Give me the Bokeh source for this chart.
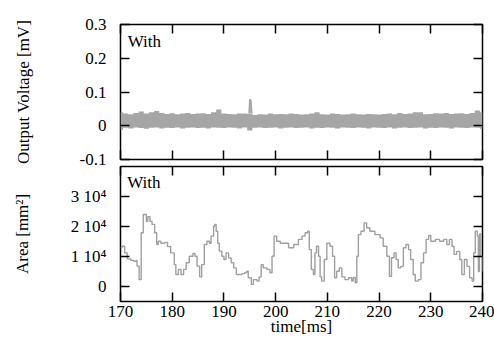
from bokeh.plotting import figure
from bokeh.models import Range1d, LinearAxis, FixedTicker, Label
from bokeh.layouts import column
from bokeh.embed import file_html
from bokeh.resources import INLINE

# ---------------- data ----------------
time_range = [170, 240]
x_ticks = [170, 180, 190, 200, 210, 220, 230, 240]
x_labels = ["170", "180", "190", "200", "210", "220", "230", "240"]

# top panel: output voltage noise band (envelope per ms)
band_t = list(range(170, 241))
band_hi = [0.040, 0.036, 0.034, 0.038, 0.042, 0.036, 0.040, 0.044, 0.038, 0.035,
           0.037, 0.034, 0.036, 0.038, 0.035, 0.036, 0.037, 0.035, 0.040, 0.048,
           0.036, 0.035, 0.034, 0.036, 0.036, 0.035, 0.032, 0.034, 0.033, 0.036,
           0.034, 0.035, 0.034, 0.036, 0.035, 0.033, 0.034, 0.036, 0.040, 0.034,
           0.033, 0.036, 0.035, 0.033, 0.034, 0.036, 0.034, 0.033, 0.035, 0.034,
           0.033, 0.035, 0.036, 0.034, 0.038, 0.035, 0.036, 0.040, 0.040, 0.034,
           0.035, 0.037, 0.036, 0.038, 0.035, 0.036, 0.037, 0.035, 0.038, 0.045,
           0.040]
band_lo = [-0.012, -0.006, -0.008, -0.005, -0.007, -0.009, -0.006, -0.005, -0.008, -0.006,
           -0.007, -0.005, -0.008, -0.006, -0.005, -0.007, -0.006, -0.008, -0.005, -0.006,
           -0.007, -0.005, -0.006, -0.008, -0.005, -0.014, -0.006, -0.005, -0.007, -0.006,
           -0.005, -0.008, -0.006, -0.005, -0.007, -0.006, -0.005, -0.008, -0.006, -0.007,
           -0.005, -0.006, -0.008, -0.005, -0.006, -0.007, -0.005, -0.006, -0.008, -0.005,
           -0.006, -0.007, -0.005, -0.008, -0.006, -0.005, -0.007, -0.006, -0.005, -0.008,
           -0.006, -0.007, -0.005, -0.006, -0.008, -0.005, -0.006, -0.007, -0.005, -0.006,
           -0.009]
spike_t = [194.9, 195.05, 195.2, 195.35]
spike_v = [0.036, 0.078, 0.072, 0.036]
v_range = [-0.1, 0.3]
v_ticks = [-0.1, 0, 0.1, 0.2, 0.3]
v_labels = ["-0.1", "0", "0.1", "0.2", "0.3"]

# bottom panel: area
area_t = [170.0, 170.3, 170.8, 171.3, 172.0, 172.6, 173.0, 173.2, 173.6, 174.0,
          174.4, 175.0, 175.3, 175.7, 176.1, 176.6, 177.0, 177.3, 177.8, 178.5,
          179.1, 179.7, 180.4, 180.7, 181.2, 181.7, 182.2, 182.7, 183.3, 184.0,
          184.4, 184.8, 185.3, 185.7, 186.2, 186.7, 187.2, 187.5, 188.0, 188.2,
          188.5, 188.8, 189.1, 189.6, 190.0, 190.4, 190.9, 191.4, 191.9, 192.4,
          193.0, 193.5, 194.0, 194.4, 194.7, 195.3, 195.7, 196.4, 196.8, 197.2,
          197.6, 198.3, 198.9, 199.3, 199.7, 200.2, 200.9, 201.5, 202.5, 203.5,
          204.4, 205.1, 205.7, 206.2, 206.5, 206.9, 207.3, 207.6, 207.9, 208.3,
          208.6, 208.9, 209.4, 209.9, 210.5, 211.0, 211.4, 211.8, 212.3, 212.8,
          213.4, 214.1, 214.7, 215.0, 215.4, 215.7, 216.0, 216.5, 217.1, 217.6,
          218.2, 219.2, 220.2, 220.8, 221.5, 222.0, 222.4, 222.9, 223.3, 223.7,
          224.2, 224.7, 225.2, 225.7, 226.1, 226.6, 227.0, 227.6, 228.1, 228.6,
          229.1, 229.6, 230.0, 230.9, 231.7, 232.5, 233.1, 233.6, 234.1, 234.5,
          235.0, 235.6, 236.0, 236.5, 237.0, 237.5, 238.0, 238.3, 238.6, 239.0,
          239.2, 239.4, 239.7, 240.0]
area_v = [13000, 13400, 11200, 9200, 8700, 8400, 8700, 6800, 2300, 17900,
          24000, 21700, 23300, 21700, 20700, 17900, 14000, 15100, 14400, 14700,
          13300, 11200, 7300, 4000, 5700, 4000, 5700, 7900, 10100, 11000,
          10100, 6800, 3200, 7300, 14000, 15100, 14400, 16800, 20100, 20700,
          18400, 14400, 11800, 10100, 9000, 11200, 9500, 7900, 6200, 4000,
          4000, 4300, 4600, 5100, 2900, 700, 2300, 1800, 3200, 7300,
          6200, 5700, 4600, 10100, 16800, 15100, 14400, 14400, 12900, 14000,
          15700, 16800, 17900, 18400, 12300, 5700, 4000, 11200, 13400, 10100,
          3200, 1800, 9000, 14400, 13400, 10100, 2900, 5100, 6200, 3200,
          2300, 2900, 1800, 3000, 1200, 10100, 17300, 18400, 21200, 19600,
          18400, 17300, 16200, 13400, 10100, 3400, 9600, 11200, 9000, 6200,
          6700, 12900, 14000, 12300, 9000, 4000, 1800, 2300, 7900, 11200,
          15700, 17000, 15100, 15700, 15100, 15700, 14000, 15700, 13400, 10700,
          11700, 9000, 4000, 9000, 6700, 2900, 1800, 11200, 18400, 16800,
          5000, 17500, 10000, 5000]
a_range = [-5000, 40000]
a_ticks = [0, 10000, 20000, 30000]
a_labels = ["0", "1 10\u2074", "2 10\u2074", "3 10\u2074"]

panel_text = "With"
y_title_top = "Output Voltage [mV]"
y_title_bot = "Area [mm\u00b2]"
x_title = "time[ms]"

# ---------------- styling ----------------
FONT = "Liberation Serif"
FS = "17px"
GRAY = "#a6a6a6"


def style_axis(ax, ticks, labels, show):
    ax.ticker = FixedTicker(ticks=ticks)
    ax.major_tick_in = 9
    ax.major_tick_out = 0
    ax.minor_tick_in = 0
    ax.minor_tick_out = 0
    ax.major_tick_line_color = "black"
    ax.major_tick_line_width = 1.5
    ax.axis_line_color = None
    ax.major_label_text_font = FONT
    ax.major_label_text_font_size = FS
    ax.major_label_text_color = "black"
    ax.axis_label_text_font = FONT
    ax.axis_label_text_font_size = FS
    ax.axis_label_text_font_style = "normal"
    ax.axis_label_text_color = "black"
    if show:
        ax.major_label_overrides = {t: l for t, l in zip(ticks, labels)}
    else:
        ax.major_label_overrides = {t: "" for t in ticks}
        ax.major_label_standoff = 0


def make_fig(top, bottom, yr, yticks, ylabels, ytitle, ystand, xlab):
    p = figure(frame_width=362, frame_height=135,
               x_range=Range1d(*time_range), y_range=Range1d(*yr),
               output_backend="svg", toolbar_location=None,
               x_axis_location=None, y_axis_location=None,
               min_border_left=120, min_border_right=12,
               min_border_top=top, min_border_bottom=bottom)
    p.grid.visible = False
    p.outline_line_color = "black"
    p.outline_line_width = 1.5
    p.outline_line_alpha = 1.0
    p.background_fill_color = "white"

    left = LinearAxis(axis_label=ytitle)
    style_axis(left, yticks, ylabels, True)
    left.major_label_standoff = 14
    left.axis_label_standoff = ystand
    p.add_layout(left, "left")

    right = LinearAxis()
    style_axis(right, yticks, ylabels, False)
    p.add_layout(right, "right")

    below = LinearAxis()
    style_axis(below, x_ticks, x_labels, xlab)
    if xlab:
        below.axis_label = x_title
        below.major_label_standoff = 4
        below.axis_label_standoff = -3
    p.add_layout(below, "below")

    above = LinearAxis()
    style_axis(above, x_ticks, x_labels, False)
    p.add_layout(above, "above")
    return p


p1 = make_fig(24, 14, v_range, v_ticks, v_labels, y_title_top, 44, False)
p1.border_fill_color = "white"
try:
    p1.varea_step(x=band_t, y1=band_lo, y2=band_hi, step_mode="center",
                  fill_color=GRAY, fill_alpha=1.0)
except Exception:
    p1.varea(x=band_t, y1=band_lo, y2=band_hi, fill_color=GRAY, fill_alpha=1.0)
p1.line(spike_t, spike_v, line_color=GRAY, line_width=2)
p1.add_layout(Label(x=171.4, y=0.25, text=panel_text, text_font=FONT,
                    text_font_size=FS, text_baseline="middle", text_align="left",
                    text_color="black"))

p2 = make_fig(4, 39, a_range, a_ticks, a_labels, y_title_bot, 36, True)
p2.border_fill_color = None
p2.margin = (-11, 0, 0, 0)
p2.step(area_t, area_v, mode="after", line_color="#a0a0a0", line_width=1.4)
p2.add_layout(Label(x=171.3, y=34800, text=panel_text, text_font=FONT,
                    text_font_size=FS, text_baseline="middle", text_align="left",
                    text_color="black"))

layout = column(p1, p2, spacing=0)
open("out.html", "w").write(file_html(layout, INLINE))
